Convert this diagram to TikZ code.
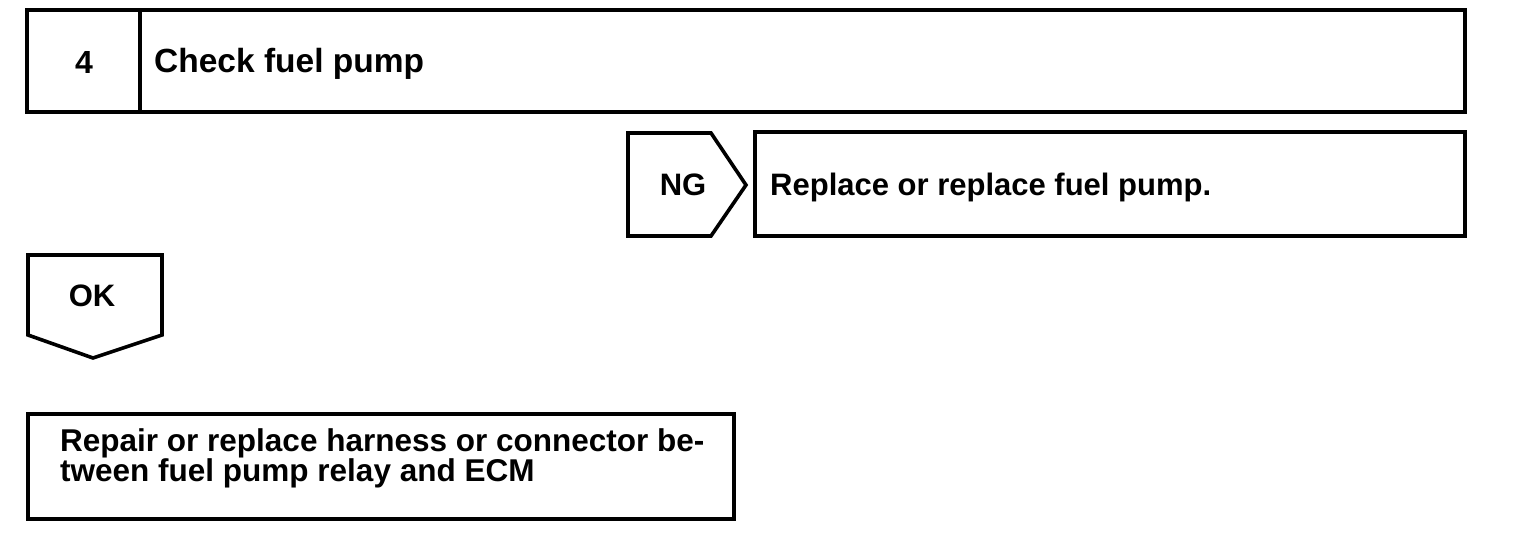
\documentclass[tikz,border=0pt]{standalone}
\usepackage{fontspec}
\setmainfont{Liberation Sans}
\begin{document}
\begin{tikzpicture}[x=1pt,y=-1pt,
  frame/.style={draw=black,line width=3.6pt,line join=miter},
  lbl/.style={font=\bfseries\fontsize{31}{27}\selectfont,inner sep=0pt}]
\useasboundingbox (0,0) rectangle (1520,552);
% top box
\draw[frame] (27,10) rectangle (1465,112);
\draw[frame] (140,10) -- (140,112);
\node[lbl,font=\bfseries\fontsize{32}{27}\selectfont] (num) at (84,62) {4};
\node[lbl,anchor=base west,font=\bfseries\fontsize{33.5}{27}\selectfont] (chk) at (154,72) {Check fuel pump};
% NG arrow
\draw[frame] (628,133) -- (711,133) -- (746,185) -- (711,236) -- (628,236) -- cycle;
\node[lbl] (ng) at (683,185) {NG};
\draw[frame] (755,132) rectangle (1465,236);
\node[lbl,anchor=base west] (rep) at (770,195) {Replace or replace fuel pump.};
% OK arrow
\draw[frame] (28,255) -- (162,255) -- (162,335) -- (93,358) -- (28,335) -- cycle;
\node[lbl] (ok) at (92,296) {OK};
% bottom box
\draw[frame] (28,414) rectangle (734,519);
\node[lbl,anchor=north west,align=left,font=\bfseries\fontsize{31.5}{27}\selectfont] (fix) at (60,428) {Repair or replace harness or connector be-\\tween fuel pump relay and ECM};
\end{tikzpicture}
\end{document}
